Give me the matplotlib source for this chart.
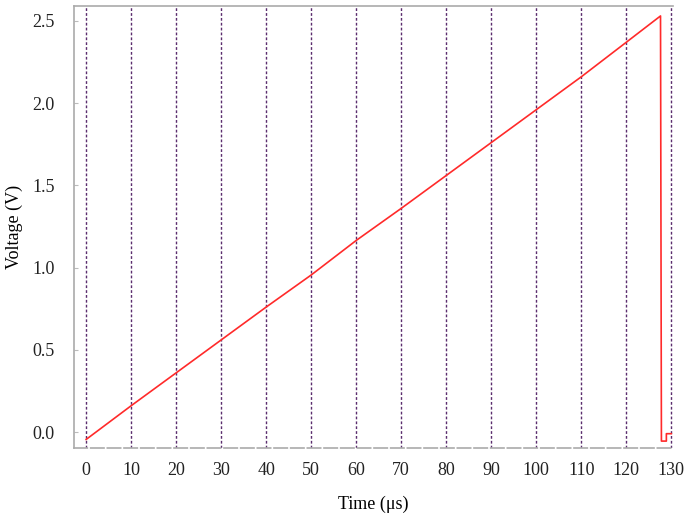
"""
Ramp voltage vs time, recreated with matplotlib.
"""

import matplotlib
matplotlib.use("Agg")
import matplotlib.pyplot as plt

# values
time_us = [0, 10, 20, 30, 40, 50, 60, 70, 80, 90, 100, 110, 120,
           127.6, 127.8, 128.9, 128.9, 130]
voltage = [-0.045, 0.16, 0.36, 0.56, 0.76, 0.955, 1.165, 1.36, 1.56, 1.76,
           1.96, 2.16, 2.37, 2.53, -0.055, -0.055, -0.01, -0.01]

x_ticks = list(range(0, 131, 10))
y_ticks = [0.0, 0.5, 1.0, 1.5, 2.0, 2.5]

plt.rcParams['font.family'] = ['Liberation Serif', 'DejaVu Serif']

fig = plt.figure(figsize=(6.85, 5.23), dpi=100)
ax = fig.add_axes([0.108, 0.1434, 0.874, 0.845])

for t in x_ticks:
    ax.axvline(t, color='#5b2d6e', linewidth=1.0, linestyle=(0, (2, 1.5)), zorder=1)

ax.plot(time_us, voltage, color='#ff2a2a', linewidth=1.2, zorder=3)

ax.set_xlim(-2.7, 130.3)
ax.set_ylim(-0.097, 2.59)
ax.set_xticks(x_ticks)
ax.set_xticklabels([str(t) for t in x_ticks])
ax.set_yticks(y_ticks)
ax.set_yticklabels([f"{v:.1f}" for v in y_ticks])

ax.tick_params(axis='x', length=0, pad=10, labelsize=13, colors='#222222')
ax.tick_params(axis='y', length=3, direction='in', pad=14, labelsize=13,
               color='#bbbbbb', labelcolor='#222222')

for side in ['top', 'left', 'bottom']:
    ax.spines[side].set_color('#aaaaaa')
    ax.spines[side].set_linewidth(1.2)
ax.spines['bottom'].set_linestyle((0, (8, 2)))
ax.spines['right'].set_visible(False)

ax.set_xlabel("Time (μs)", fontsize=13, labelpad=12)
ax.set_ylabel("Voltage (V)", fontsize=13)
ax.yaxis.set_label_coords(-0.085, 0.5)

fig.savefig("out.png", dpi=100)
